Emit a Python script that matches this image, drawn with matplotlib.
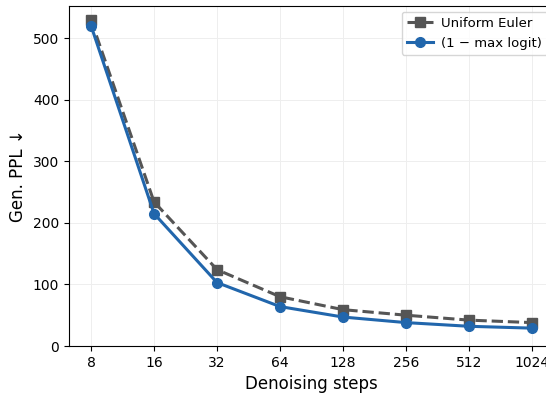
import numpy as np
import matplotlib.pyplot as plt

steps = [8, 16, 32, 64, 128, 256, 512, 1024]
uniform_euler = [529, 234, 124, 80, 59, 50, 42, 38]
max_logit = [520, 215, 103, 64, 47, 38, 32, 29]

fig = plt.figure(figsize=(5.46, 3.96), dpi=100)
ax = fig.add_axes([69 / 546, 50 / 396, 485 / 546, 340 / 396])

ax.plot(steps, uniform_euler, 's--', color='#555555', lw=2.2, ms=7,
        label='Uniform Euler')
ax.plot(steps, max_logit, 'o-', color='#2166ac', lw=2.2, ms=7,
        label='(1 \u2212 max logit)')

ax.set_xscale('log', base=2)
ax.set_xticks(steps)
ax.set_xticklabels([str(s) for s in steps])
ax.minorticks_off()
ax.set_xlim(8 * 2 ** -0.35, 1024 * 2 ** 0.35)
ax.set_ylim(0, 552)
ax.set_yticks([0, 100, 200, 300, 400, 500])
ax.grid(True, color='#eeeeee', lw=0.7)
ax.set_axisbelow(True)
ax.tick_params(labelsize=10)

ax.set_xlabel('Denoising steps', fontsize=12)
ax.set_ylabel('Gen. PPL \u2193', fontsize=12)
ax.legend(loc='upper left', fontsize=9.5, bbox_to_anchor=(0.686, 0.983),
          borderaxespad=0, handletextpad=0.6)

fig.savefig('out.png', dpi=100)
